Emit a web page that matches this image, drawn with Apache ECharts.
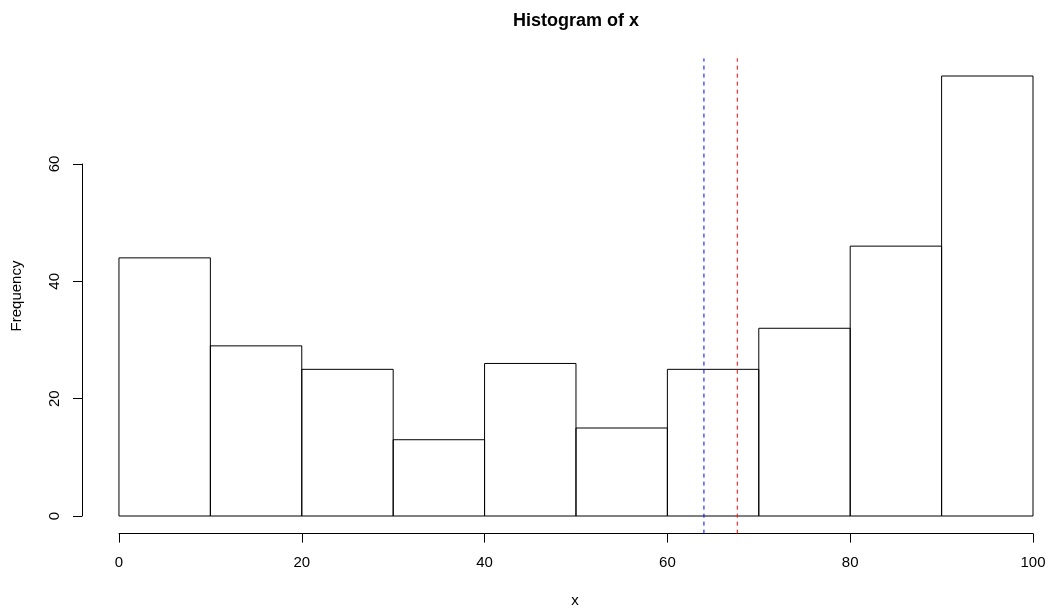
<!DOCTYPE html>
<html>
<head>
<meta charset="utf-8">
<script src="https://cdn.jsdelivr.net/npm/echarts@6/dist/echarts.min.js"></script>
<style>
html,body{margin:0;padding:0;background:#fff;}
#chart{width:1049px;height:606px;}
</style>
</head>
<body>
<div id="chart"></div>
<script>
// Data
var binStarts = [0, 10, 20, 30, 40, 50, 60, 70, 80, 90];
var binEnds   = [10, 20, 30, 40, 50, 60, 70, 80, 90, 100];
var counts    = [44, 29, 25, 13, 26, 15, 25, 32, 46, 75];
var blueLineX = 64.0;
var redLineX  = 67.65;
var xTicks = [0, 20, 40, 60, 80, 100];
var yTicks = [0, 20, 40, 60];

var FONT = '"Liberation Sans", Arial, sans-serif';

var barData = binStarts.map(function (s, i) { return [s, binEnds[i], counts[i]]; });

var chart = echarts.init(document.getElementById('chart'), null, { renderer: 'canvas' });

var option = {
  backgroundColor: '#ffffff',
  animation: false,
  grid: [
    { left: 82.4, right: 16, top: 58.4, bottom: 72.4 },          // data region
    { left: 82, width: 10, top: 164, bottom: 90 },                // y axis 0..60
    { left: 119, right: 16, top: 500, bottom: 72.4 }              // x axis 0..100
  ],
  xAxis: [
    { gridIndex: 0, type: 'value', min: -4, max: 100, show: false },
    { gridIndex: 1, type: 'value', min: 0, max: 1, show: false },
    {
      gridIndex: 2, type: 'value', min: 0, max: 100, interval: 20, position: 'bottom',
      axisLine: { show: true, lineStyle: { color: '#000', width: 1 } },
      axisTick: { show: true, length: 9, inside: false, lineStyle: { color: '#000', width: 1 } },
      axisLabel: { show: true, margin: 22, color: '#000', fontSize: 15, fontFamily: FONT,
        formatter: function (v) { return xTicks.indexOf(v) >= 0 ? String(v) : ''; } },
      splitLine: { show: false }
    }
  ],
  yAxis: [
    { gridIndex: 0, type: 'value', min: -3, max: 78, show: false },
    {
      gridIndex: 1, type: 'value', min: 0, max: 60, interval: 20, position: 'left',
      axisLine: { show: true, lineStyle: { color: '#000', width: 1 } },
      axisTick: { show: true, length: 9, inside: false, lineStyle: { color: '#000', width: 1 } },
      axisLabel: { show: true, rotate: 90, margin: 20, color: '#000', fontSize: 15, fontFamily: FONT,
        formatter: function (v) { return yTicks.indexOf(v) >= 0 ? String(v) : ''; } },
      splitLine: { show: false }
    },
    { gridIndex: 2, type: 'value', min: 0, max: 1, show: false }
  ],
  graphic: [
    { type: 'text', x: 576, y: 21, style: { text: 'Histogram of x', textAlign: 'center', textVerticalAlign: 'middle',
      font: 'bold 18px ' + FONT, fill: '#000' } },
    { type: 'text', x: 575, y: 601, style: { text: 'x', textAlign: 'center', textVerticalAlign: 'middle',
      font: '15px ' + FONT, fill: '#000' } },
    { type: 'text', x: 17, y: 296, rotation: Math.PI / 2, style: { text: 'Frequency', textAlign: 'center',
      textVerticalAlign: 'middle', font: '15px ' + FONT, fill: '#000' } }
  ],
  series: [
    {
      type: 'custom',
      xAxisIndex: 0, yAxisIndex: 0,
      data: barData,
      clip: true,
      renderItem: function (params, api) {
        var p0 = api.coord([api.value(0), 0]);
        var p1 = api.coord([api.value(1), api.value(2)]);
        return {
          type: 'rect',
          shape: { x: p0[0], y: p1[1], width: p1[0] - p0[0], height: p0[1] - p1[1] },
          style: { fill: 'rgba(255,255,255,0)', stroke: '#000', lineWidth: 1 }
        };
      }
    },
    {
      type: 'line', xAxisIndex: 0, yAxisIndex: 0, symbol: 'none', clip: true,
      data: [[blueLineX, -3], [blueLineX, 78]],
      lineStyle: { color: '#0000ff', width: 1, type: [4, 4] }, z: 5
    },
    {
      type: 'line', xAxisIndex: 0, yAxisIndex: 0, symbol: 'none', clip: true,
      data: [[redLineX, -3], [redLineX, 78]],
      lineStyle: { color: '#ff0000', width: 1, type: [4, 4] }, z: 5
    }
  ]
};
chart.setOption(option);
</script>
</body>
</html>
